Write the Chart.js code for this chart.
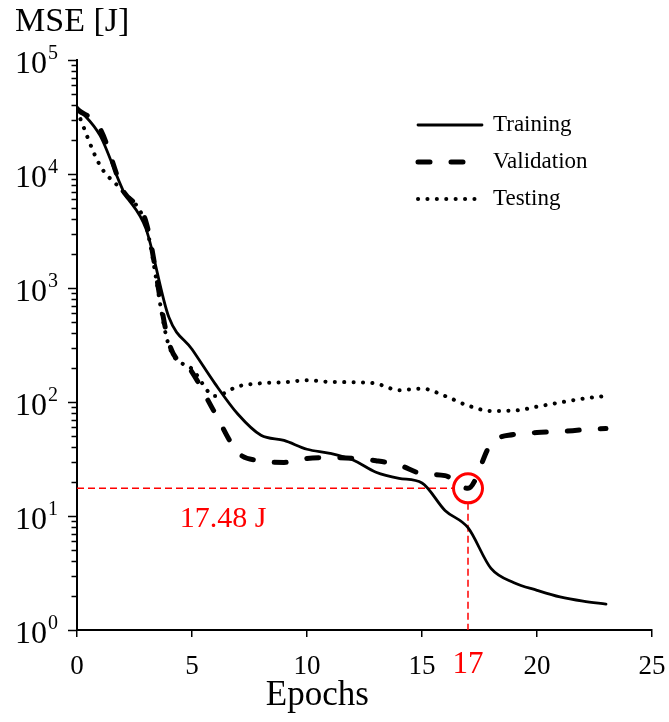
<!DOCTYPE html>
<html>
<head>
<meta charset="utf-8">
<title>MSE vs Epochs</title>
<script src="https://cdn.jsdelivr.net/npm/chart.js@4.4.0/dist/chart.umd.min.js"></script>
<style>
  html, body { margin: 0; padding: 0; background: #fff; }
</style>
</head>
<body>
<canvas id="canvas" width="669" height="722"></canvas>
<script>
// data (MSE in J, log axis)
var epochs = [0, 1, 2, 3, 4, 5, 6, 7, 8, 9, 10, 11, 12, 13, 14, 15, 16, 17, 18, 19, 20, 21, 22, 23];
var training = [38700, 21800, 7200, 3300, 550, 290, 145, 78, 51, 46, 38.5, 35.5, 31, 24.2, 21.4, 19.5, 11.2, 7.9, 3.47, 2.6, 2.23, 1.95, 1.79, 1.69];
var validation = [37000, 25000, 7200, 3800, 330, 183, 80, 36, 30.5, 29.5, 32, 32.5, 32, 30.5, 28, 23.5, 22.6, 17.48, 43, 52, 54, 55, 57, 58.5];
var testing = [36000, 11900, 7000, 3500, 310, 195, 113, 137, 146, 149, 155, 150, 149, 145, 127, 131, 113, 93, 83.5, 84, 91, 99, 107, 113];
var seriesNames = ['Training', 'Validation', 'Testing'];
var xTickValues = [0, 5, 10, 15, 20, 25];
var yDecades = [0, 1, 2, 3, 4, 5];
var bestEpoch = 17;
var bestMSE = 17.48;
var bestLabel = '17.48 J';
var xTitle = 'Epochs';

var serif = "'Liberation Serif', 'Times New Roman', serif";

function toPoints(vals) {
    return epochs.map(function(e, i) { return {x: e, y: vals[i]}; });
}

// red guide lines to the minimum validation error
var guides = {
    id: 'guides',
    beforeDatasetsDraw: function(chart) {
        var ctx = chart.ctx, xs = chart.scales.x, ys = chart.scales.y, area = chart.chartArea;
        var cx = xs.getPixelForValue(bestEpoch), cy = ys.getPixelForValue(bestMSE), r = 14.5;
        ctx.save();
        ctx.strokeStyle = '#ff0000';
        ctx.lineWidth = 1.5;
        ctx.setLineDash([7, 4]);
        ctx.beginPath();
        ctx.moveTo(area.left, cy);
        ctx.lineTo(cx - r, cy);
        ctx.moveTo(cx, cy + r);
        ctx.lineTo(cx, area.bottom);
        ctx.stroke();
        ctx.restore();
    },
    afterDraw: function(chart) {
        var ctx = chart.ctx, xs = chart.scales.x, ys = chart.scales.y, area = chart.chartArea;
        var cx = xs.getPixelForValue(bestEpoch), cy = ys.getPixelForValue(bestMSE);
        ctx.save();

        // circle round the best point
        ctx.strokeStyle = '#ff0000';
        ctx.lineWidth = 3;
        ctx.beginPath();
        ctx.arc(cx, cy, 14.5, 0, Math.PI * 2);
        ctx.stroke();

        ctx.fillStyle = '#ff0000';
        ctx.textBaseline = 'alphabetic';
        ctx.textAlign = 'center';
        ctx.font = '30px ' + serif;
        ctx.fillText(bestLabel, xs.getPixelForValue(6.35), cy + 39);
        ctx.font = '31px ' + serif;
        ctx.fillText(String(bestEpoch), cx, area.bottom + 43);

        // x axis title, a bit left of centre like the original
        ctx.fillStyle = '#000';
        ctx.font = '35px ' + serif;
        ctx.fillText(xTitle, xs.getPixelForValue(10.45), area.bottom + 75);

        // y ticks (outward) and 10^n labels
        ctx.strokeStyle = '#000';
        ctx.lineWidth = 1.5;
        ctx.beginPath();
        yDecades.forEach(function(d) {
            var mults = d < 5 ? [1, 2, 3, 4, 5, 6, 7, 8, 9] : [1];
            mults.forEach(function(m) {
                var py = Math.round(ys.getPixelForValue(m * Math.pow(10, d))) + 0.5;
                var len = m === 1 ? 9 : 5.5;
                ctx.moveTo(area.left - len, py);
                ctx.lineTo(area.left, py);
            });
        });
        ctx.stroke();

        yDecades.forEach(function(d) {
            var py = ys.getPixelForValue(Math.pow(10, d));
            ctx.textAlign = 'right';
            ctx.font = '32px ' + serif;
            ctx.fillText('10', area.left - 30, py + 13);
            ctx.textAlign = 'left';
            ctx.font = '20px ' + serif;
            ctx.fillText(String(d), area.left - 29, py - 1);
        });

        // legend
        var lx = area.left + 341, ly = area.top + 65;
        chart.data.datasets.forEach(function(ds, i) {
            var y = ly + i * 37;
            ctx.save();
            ctx.strokeStyle = ds.borderColor;
            ctx.lineWidth = ds.borderWidth;
            ctx.lineCap = ds.borderCapStyle || 'butt';
            ctx.setLineDash(ds.borderDash || []);
            ctx.beginPath();
            ctx.moveTo(lx, y);
            ctx.lineTo(lx + 64, y);
            ctx.stroke();
            ctx.restore();
            ctx.fillStyle = '#000';
            ctx.textAlign = 'left';
            ctx.textBaseline = 'middle';
            ctx.font = '23px ' + serif;
            ctx.fillText(ds.label, lx + 75, y);
        });
        ctx.restore();
    }
};

window.onload = function() {
    var ctx = document.getElementById('canvas').getContext('2d');
    window.myChart = new Chart(ctx, {
        type: 'line',
        data: {
            datasets: [{
                label: seriesNames[0],
                data: toPoints(training),
                borderColor: '#000',
                borderWidth: 2.8,
                borderCapStyle: 'round',
                pointRadius: 0,
                cubicInterpolationMode: 'monotone'
            }, {
                label: seriesNames[1],
                data: toPoints(validation),
                borderColor: '#000',
                borderWidth: 5,
                borderDash: [12, 21],
                borderCapStyle: 'round',
                pointRadius: 0,
                cubicInterpolationMode: 'monotone'
            }, {
                label: seriesNames[2],
                data: toPoints(testing),
                borderColor: '#000',
                borderWidth: 4,
                borderDash: [0.1, 9.3],
                borderCapStyle: 'round',
                pointRadius: 0,
                cubicInterpolationMode: 'monotone'
            }]
        },
        options: {
            responsive: false,
            animation: false,
            layout: { padding: { left: 15, right: 17, top: 0, bottom: 0 } },
            plugins: {
                legend: { display: false },
                tooltip: { enabled: false },
                title: {
                    display: true,
                    text: 'MSE [J]',
                    align: 'start',
                    color: '#000',
                    font: { family: serif, size: 34, weight: 'normal' },
                    padding: { top: 2, bottom: 17.2 }
                }
            },
            scales: {
                x: {
                    type: 'linear',
                    min: 0,
                    max: 25,
                    afterBuildTicks: function(scale) {
                        scale.ticks = xTickValues.map(function(v) { return {value: v}; });
                    },
                    afterFit: function(scale) {
                        scale.height = 92;
                        scale.paddingLeft = 0;
                        scale.paddingRight = 0;
                    },
                    ticks: {
                        color: '#000',
                        padding: 14,
                        font: { family: serif, size: 27 }
                    },
                    grid: { drawOnChartArea: false, drawTicks: true, tickLength: 7, color: '#000', lineWidth: 1.5 },
                    border: { display: true, color: '#000', width: 2 },
                    title: { display: false }
                },
                y: {
                    type: 'logarithmic',
                    min: 1,
                    max: 100000,
                    afterFit: function(scale) {
                        scale.width = 62;
                        scale.paddingTop = 0;
                        scale.paddingBottom = 0;
                    },
                    ticks: { display: false },
                    grid: { display: false },
                    border: { display: true, color: '#000', width: 2 }
                }
            }
        },
        plugins: [guides]
    });
};
</script>
</body>
</html>
